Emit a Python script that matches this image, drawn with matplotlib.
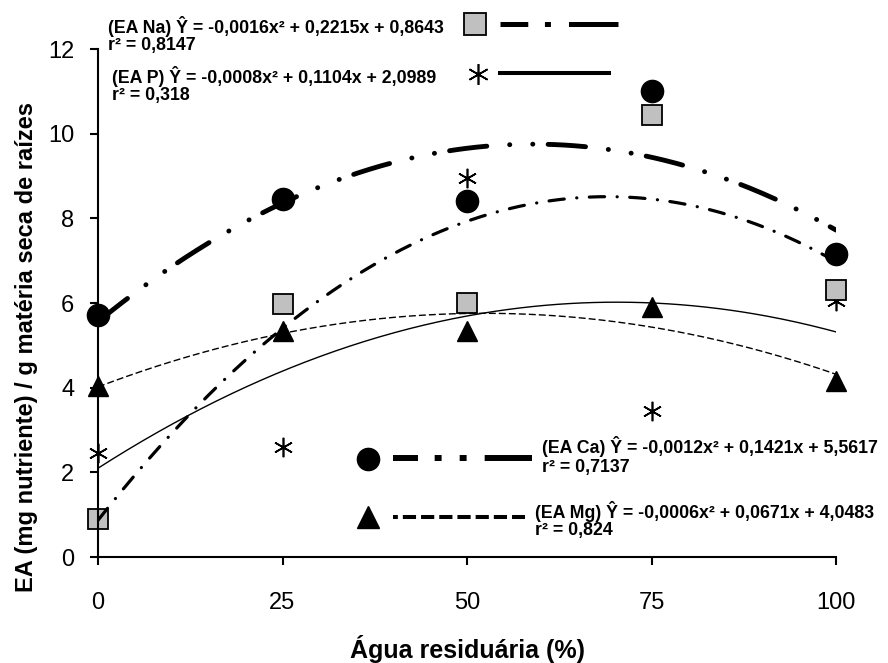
import numpy as np
import matplotlib
matplotlib.use("Agg")
import matplotlib.pyplot as plt

plt.rcParams['font.family'] = ['Liberation Sans', 'DejaVu Sans']
plt.rcParams['lines.scale_dashes'] = False

# dados
agua = [0, 25, 50, 75, 100]
ea_na = [0.9, 5.98, 6.0, 10.45, 6.3]
ea_p = [2.45, 2.6, 8.95, 3.45, 6.05]
ea_ca = [5.72, 8.45, 8.42, 11.0, 7.15]
ea_mg = [4.05, 5.35, 5.35, 5.9, 4.15]

txt_na = ["(EA Na) Ŷ = -0,0016x² + 0,2215x + 0,8643", "r² = 0,8147"]
txt_p = ["(EA P) Ŷ = -0,0008x² + 0,1104x + 2,0989", "r² = 0,318"]
txt_ca = ["(EA Ca) Ŷ = -0,0012x² + 0,1421x + 5,5617", "r² = 0,7137"]
txt_mg = ["(EA Mg) Ŷ = -0,0006x² + 0,0671x + 4,0483", "r² = 0,824"]

W, H = 888, 663
fig = plt.figure(figsize=(W / 100, H / 100), dpi=100)
ax = fig.add_axes([98 / W, 1 - 557 / H, (836 - 98) / W, (557 - 49) / H])

xs = np.linspace(0, 100, 300)

def curva(y):
    c = np.polyfit(agua, y, 2)
    return np.polyval(c, xs)

# marcadores (asterisco antes do quadrado)
ax.plot(agua, ea_p, ls='none', marker=(6, 2, 0), ms=14, mew=1.2, color='k', clip_on=False, zorder=2)
ax.plot(agua, ea_mg, ls='none', marker='^', ms=15, color='k', clip_on=False, zorder=2)
ax.plot(agua, ea_ca, ls='none', marker='o', ms=16, color='k', clip_on=False, zorder=2)
ax.plot(agua, ea_na, ls='none', marker='s', ms=15, mfc='#c0c0c0', mec='k', mew=1.3, clip_on=False, zorder=2)

# linhas de tendência
ax.plot(xs, curva(ea_p), color='k', lw=1.0, zorder=3)
ax.plot(xs, curva(ea_mg), color='k', lw=1.0, ls=(0, (5, 2.2)), zorder=3)
ax.plot(xs, curva(ea_na), color='k', lw=2.3, ls=(0, (11, 9, 0.1, 9)), dash_capstyle='round', zorder=3)
ax.plot(xs, curva(ea_ca), color='k', lw=3.5, ls=(0, (27, 16.5, 0.1, 16.5, 0.1, 11)),
        dash_capstyle='round', zorder=3)

ax.set_xlim(0, 100)
ax.set_ylim(0, 12)
ax.set_xticks(agua)
ax.set_yticks(range(0, 13, 2))
ax.spines['top'].set_visible(False)
ax.spines['right'].set_visible(False)
for s in ['left', 'bottom']:
    ax.spines[s].set_linewidth(1.5)
ax.tick_params(axis='both', direction='out', length=6, width=1.5, labelsize=17)
ax.tick_params(axis='x', pad=19)
ax.tick_params(axis='y', pad=11)

fig.text(467 / W, 1 - 649 / H, "Água residuária (%)", ha='center', va='center',
         fontsize=18, fontweight='bold')
fig.text(27 / W, 1 - 347 / H, "EA (mg nutriente) / g matéria seca de raízes", ha='center', va='center',
         rotation=90, fontsize=17, fontweight='bold')

# legenda desenhada em coordenadas de pixel
lg = fig.add_axes([0, 0, 1, 1], facecolor='none')
lg.set_xlim(0, W)
lg.set_ylim(H, 0)
lg.axis('off')

def rotulo(x, y1, y2, linhas):
    lg.text(x, y1, linhas[0], fontsize=12.8, fontweight='bold', va='baseline')
    lg.text(x, y2, linhas[1], fontsize=12.8, fontweight='bold', va='baseline')

rotulo(108, 33, 50, txt_na)
rotulo(112, 83, 100, txt_p)
rotulo(542, 453, 472, txt_ca)
rotulo(535, 518, 535, txt_mg)

lg.plot([475], [24], marker='s', ms=16, mfc='#c0c0c0', mec='k', mew=1.3)
lg.plot([500, 618], [24, 24], color='k', lw=3.6, ls=(0, (20, 12, 4.3, 13, 40, 10)), solid_capstyle='butt')
lg.plot([478], [74], marker=(6, 2, 0), ms=15, mew=1.2, color='k')
lg.plot([498, 611], [73, 73], color='k', lw=2.9, solid_capstyle='butt')
lg.plot([368], [459], marker='o', ms=16, color='k')
lg.plot([393, 532], [458, 458], color='k', lw=4.3, ls=(0, (18, 12, 5, 13, 5, 13, 40, 10)))
lg.plot([368], [517], marker='^', ms=16, color='k')
lg.plot([393, 525], [517, 517], color='k', lw=2.9, ls=(6, (9.5, 3.6)))

fig.savefig("out.png", dpi=100)
